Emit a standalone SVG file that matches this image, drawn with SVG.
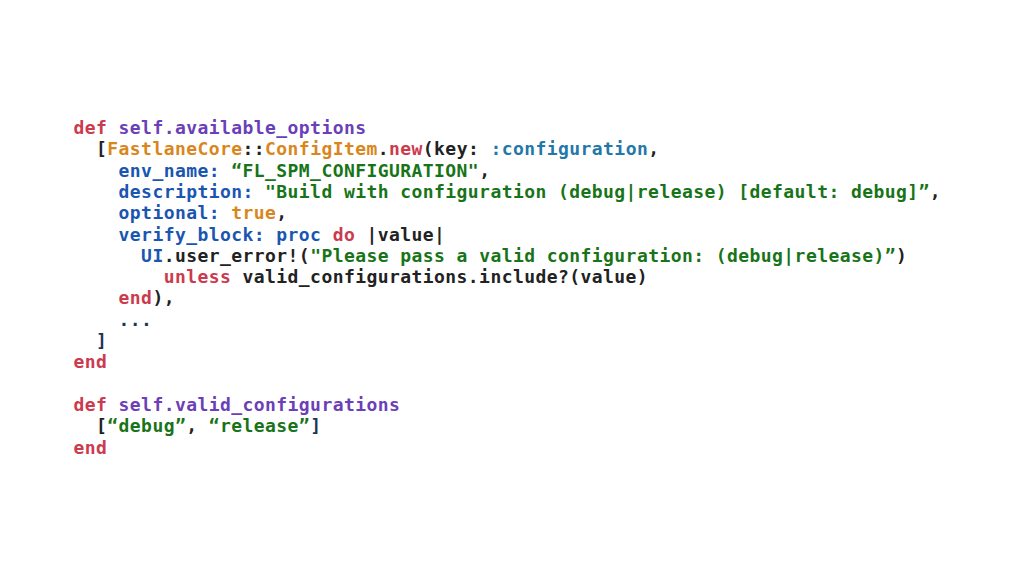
<svg xmlns="http://www.w3.org/2000/svg" width="1024" height="576" viewBox="0 0 1024 576">
<style>
text{font-family:"DejaVu Sans Mono","Liberation Mono",monospace;font-weight:bold;font-size:18px;letter-spacing:0.43px;white-space:pre;fill:#222}
.k{fill:#cc3a4e}
.m{fill:#6b3fb8}
.c{fill:#d9861c}
.s{fill:#187418}
.a{fill:#1a56b0}
.y{fill:#2478a8}
.n{fill:#1d3557}
</style>
<rect width="1024" height="576" fill="#ffffff"/>
<g id="code" xml:space="preserve">
<text x="73.5" y="134"><tspan class="k">def</tspan><tspan class="m"> self.available_options</tspan></text>
<text x="73.5" y="155.3">  [<tspan class="c">FastlaneCore</tspan>::<tspan class="c">ConfigItem</tspan>.<tspan class="k">new</tspan>(key: <tspan class="y">:configuration</tspan>,</text>
<text x="73.5" y="176.6">    <tspan class="a">env_name:</tspan><tspan class="s"> “FL_SPM_CONFIGURATION"</tspan>,</text>
<text x="73.5" y="197.9">    <tspan class="a">description:</tspan><tspan class="s"> "Build with configuration (debug|release) [default: debug]”</tspan>,</text>
<text x="73.5" y="219.2">    <tspan class="a">optional:</tspan> <tspan class="c">true</tspan>,</text>
<text x="73.5" y="240.5">    <tspan class="a">verify_block: proc</tspan> <tspan class="k">do</tspan> |value|</text>
<text x="73.5" y="261.8">      <tspan class="a">UI</tspan>.user_error!(<tspan class="s">"Please pass a valid configuration: (debug|release)”</tspan>)</text>
<text x="73.5" y="283.1">        <tspan class="k">unless</tspan> valid_configurations.include?(value)</text>
<text x="73.5" y="304.4">    <tspan class="k">end</tspan>),</text>
<text x="73.5" y="325.7" class="n">    ...</text>
<text x="73.5" y="347" class="n">  ]</text>
<text x="73.5" y="368.3" class="k">end</text>
<text x="73.5" y="411"><tspan class="k">def</tspan><tspan class="m"> self.valid_configurations</tspan></text>
<text x="73.5" y="432.2">  [<tspan class="s">“debug”</tspan>, <tspan class="s">“release”</tspan><tspan class="n">]</tspan></text>
<text x="73.5" y="453.5" class="k">end</text>
</g>
</svg>
